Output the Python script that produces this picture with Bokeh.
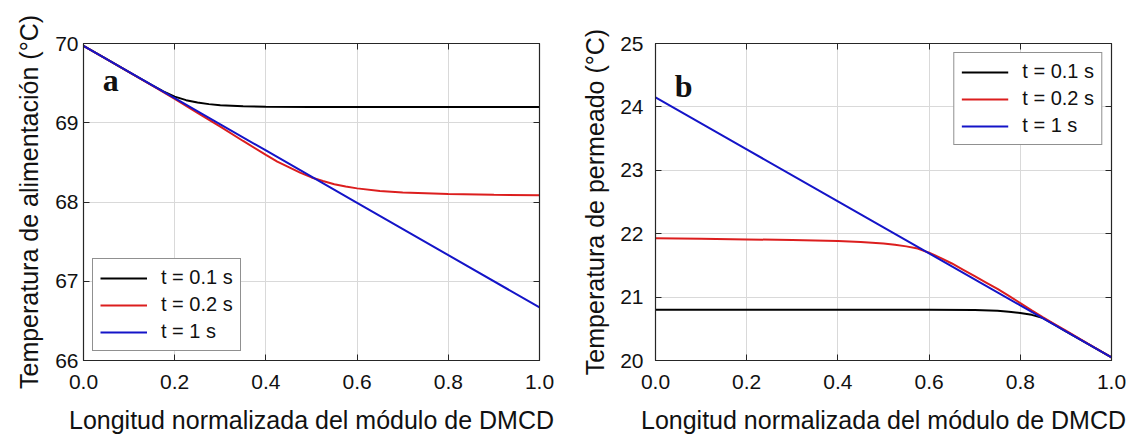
from bokeh.plotting import figure
from bokeh.models import (LinearAxis, Legend, LegendItem, Label, FixedTicker,
                          Range1d, NumeralTickFormatter)
from bokeh.layouts import row
from bokeh.embed import file_html
from bokeh.resources import INLINE

# ---------------- data ----------------
x_ticks = [0.0, 0.2, 0.4, 0.6, 0.8, 1.0]
series_labels = ["t = 0.1 s", "t = 0.2 s", "t = 1 s"]

# Panel a: feed temperature
a_y_ticks = [66, 67, 68, 69, 70]
a_x_t01 = [0, 0.05, 0.1, 0.15, 0.175, 0.2, 0.225, 0.25, 0.275, 0.3, 0.35, 0.4, 0.5, 0.6, 0.8, 1.0]
a_y_t01 = [69.97, 69.805, 69.64, 69.475, 69.395, 69.33, 69.285, 69.255, 69.235, 69.222,
           69.208, 69.203, 69.2, 69.2, 69.2, 69.2]
a_x_t02 = [0, 0.1, 0.15, 0.2, 0.25, 0.3, 0.35, 0.4, 0.425, 0.45, 0.475, 0.5, 0.525, 0.55,
           0.575, 0.6, 0.65, 0.7, 0.75, 0.8, 0.9, 1.0]
a_y_t02 = [69.97, 69.64, 69.47, 69.30, 69.125, 68.95, 68.77, 68.595, 68.51, 68.44, 68.37,
           68.31, 68.265, 68.225, 68.195, 68.172, 68.14, 68.12, 68.11, 68.10, 68.09, 68.085]
a_x_t1 = [0.0, 0.2, 0.4, 0.6, 0.8, 1.0]
a_y_t1 = [69.97, 69.31, 68.65, 67.99, 67.33, 66.67]

# Panel b: permeate temperature
b_y_ticks = [20, 21, 22, 23, 24, 25]
b_x_t01 = [0, 0.2, 0.4, 0.6, 0.7, 0.75, 0.775, 0.8, 0.825, 0.85, 0.875, 0.9, 0.95, 1.0]
b_y_t01 = [20.80, 20.80, 20.80, 20.80, 20.795, 20.785, 20.77, 20.75, 20.72, 20.67,
           20.565, 20.46, 20.255, 20.05]
b_x_t02 = [0, 0.1, 0.2, 0.3, 0.4, 0.45, 0.5, 0.525, 0.55, 0.575, 0.6, 0.625, 0.65, 0.675,
           0.7, 0.725, 0.75, 0.775, 0.8, 0.825, 0.85, 0.875, 0.9, 0.95, 1.0]
b_y_t02 = [21.93, 21.92, 21.91, 21.90, 21.885, 21.87, 21.845, 21.825, 21.80, 21.765, 21.70,
           21.62, 21.53, 21.43, 21.33, 21.23, 21.13, 21.02, 20.905, 20.79, 20.68, 20.575,
           20.47, 20.26, 20.05]
b_x_t1 = [0.0, 0.2, 0.4, 0.6, 0.8, 1.0]
b_y_t1 = [24.15, 23.33, 22.51, 21.69, 20.87, 20.05]

colors = ["#000000", "#dc1e1e", "#1414c8"]
FONT = "Liberation Sans"
AXIS_COLOR = "#262626"


def style_axis(ax, show_labels=True):
    ax.axis_line_color = AXIS_COLOR
    ax.axis_line_width = 1.2
    ax.major_tick_line_color = AXIS_COLOR
    ax.major_tick_in = 6
    ax.major_tick_out = 0
    ax.minor_tick_line_color = None
    ax.major_label_text_font = FONT
    if show_labels:
        ax.major_label_text_color = "#111111"
        ax.major_label_text_font_size = "21px"
    else:
        ax.major_label_text_color = None
        ax.major_label_standoff = 0


def panel(ylabel, yticks, series, letter, letter_xy, legend_loc,
          border_left, border_right, ystandoff, ylabel_standoff):
    p = figure(frame_width=456, frame_height=317,
               x_range=Range1d(0, 1), y_range=Range1d(yticks[0], yticks[-1]),
               output_backend="svg", toolbar_location=None,
               min_border_left=border_left, min_border_right=border_right,
               min_border_top=43, min_border_bottom=70)
    p.background_fill_color = "white"
    p.border_fill_color = "white"
    p.outline_line_color = AXIS_COLOR

    xt = FixedTicker(ticks=x_ticks)
    yt = FixedTicker(ticks=yticks)
    p.xaxis.ticker = xt
    p.yaxis.ticker = yt
    p.xaxis.formatter = NumeralTickFormatter(format="0.0")
    for ax in p.xaxis + p.yaxis:
        style_axis(ax)
    p.xaxis.major_label_standoff = 14
    p.yaxis.major_label_standoff = ystandoff
    p.xaxis.axis_label = "Longitud normalizada del módulo de DMCD"
    p.yaxis.axis_label = ylabel
    for ax in p.xaxis + p.yaxis:
        ax.axis_label_text_font = FONT
        ax.axis_label_text_font_size = "25px"
        ax.axis_label_text_font_style = "normal"
        ax.axis_label_text_color = "#111111"
    p.xaxis.axis_label_standoff = 14
    p.yaxis.axis_label_standoff = ylabel_standoff

    top = LinearAxis(ticker=xt)
    right = LinearAxis(ticker=yt)
    style_axis(top, False)
    style_axis(right, False)
    p.add_layout(top, "above")
    p.add_layout(right, "right")

    p.xgrid.ticker = xt
    p.ygrid.ticker = yt
    p.grid.grid_line_color = "#d9d9d9"
    p.grid.grid_line_width = 1

    items = []
    for (xs, ys), c, lab in zip(series, colors, series_labels):
        r = p.line(xs, ys, line_color=c, line_width=2)
        items.append(LegendItem(label=lab, renderers=[r]))

    leg = Legend(items=items, location=legend_loc)
    leg.label_text_font = FONT
    leg.label_text_font_size = "20px"
    leg.label_text_color = "#111111"
    leg.label_height = 20
    leg.glyph_width = 47
    leg.glyph_height = 20
    leg.spacing = 4
    leg.padding = 7
    leg.margin = 9
    leg.label_standoff = 14
    leg.border_line_color = "#222222"
    leg.border_line_width = 1
    leg.background_fill_alpha = 1
    p.add_layout(leg)

    p.add_layout(Label(x=letter_xy[0], y=letter_xy[1], text=letter,
                       text_font="Liberation Serif", text_font_style="bold",
                       text_font_size="32px", text_color="#111111",
                       text_baseline="alphabetic"))
    return p


pa = panel("Temperatura de alimentación (°C)", a_y_ticks,
           [(a_x_t01, a_y_t01), (a_x_t02, a_y_t02), (a_x_t1, a_y_t1)],
           "a", (0.042, 69.54), "bottom_left", 83, 26, 5, 9)
pb = panel("Temperatura de permeado (°C)", b_y_ticks,
           [(b_x_t01, b_y_t01), (b_x_t02, b_y_t02), (b_x_t1, b_y_t1)],
           "b", (0.042, 24.33), "top_right", 90, 15, 12, 8)

layout = row(pa, pb)
open("out.html", "w").write(file_html(layout, INLINE))
